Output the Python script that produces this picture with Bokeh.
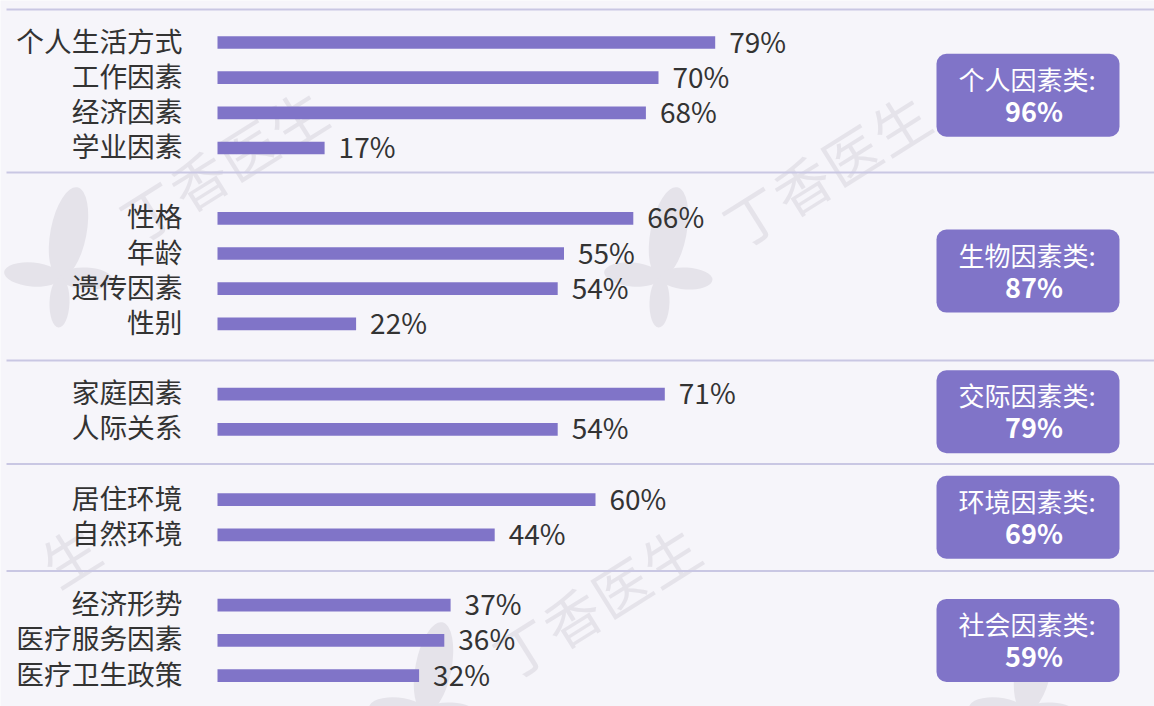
import math
from bokeh.plotting import figure
from bokeh.models import Range1d, ColumnDataSource
from bokeh.core.properties import value
from bokeh.embed import file_html
from bokeh.resources import INLINE

# ---------------- data ----------------
factor_labels = ["个人生活方式", "工作因素", "经济因素", "学业因素",
                 "性格", "年龄", "遗传因素", "性别",
                 "家庭因素", "人际关系",
                 "居住环境", "自然环境",
                 "经济形势", "医疗服务因素", "医疗卫生政策"]
factor_values = [79, 70, 68, 17, 66, 55, 54, 22, 71, 54, 60, 44, 37, 36, 32]
factor_group = [0, 0, 0, 0, 1, 1, 1, 1, 2, 2, 3, 3, 4, 4, 4]
group_names = ["个人因素类", "生物因素类", "交际因素类", "环境因素类", "社会因素类"]
group_totals = [96, 87, 79, 69, 59]

# ---------------- layout ----------------
W, H = 1154, 706
BAR_COLOR = "#8074c8"
BG = "#f6f5fa"
TXT = "#333333"
FONT = value("Noto Sans CJK SC")
PX_PER_UNIT_X = 6.30
ROW_PX = 35.17
BAR_LEFT_PX = 217
FIRST_ROW_PX = 42

x0 = -BAR_LEFT_PX / PX_PER_UNIT_X
x1 = (W - BAR_LEFT_PX) / PX_PER_UNIT_X
y0 = -FIRST_ROW_PX / ROW_PX
y1 = (H - FIRST_ROW_PX) / ROW_PX


def fx(px):  # canvas pixel -> data x
    return (px - BAR_LEFT_PX) / PX_PER_UNIT_X


def fy(py):  # canvas pixel -> data y
    return (py - FIRST_ROW_PX) / ROW_PX


rows = [i + g for i, g in enumerate(factor_group)]
pct_text = [f"{v}%" for v in factor_values]

group_mid = []
for g in range(len(group_names)):
    rr = [r for r, gg in zip(rows, factor_group) if gg == g]
    group_mid.append(sum(rr) / len(rr))

p = figure(width=W, height=H, x_range=Range1d(x0, x1), y_range=Range1d(y1, y0),
           output_backend="svg", toolbar_location=None, min_border=0,
           background_fill_color=BG, border_fill_color=BG)
p.axis.visible = False
p.grid.visible = False
p.outline_line_color = None

# ---------------- watermark (decoration) ----------------
WM = "#e5e3ea"
WM_ANG = math.radians(32)
WM_STEP = 58
wm_centers = [(222, 163), (825, 168), (-5, 600), (595, 600), (1175, 594)]
wx, wy, wt = [], [], []
for cx, cy in wm_centers:
    for k, ch in enumerate("丁香医生"):
        d = (k - 1.5) * WM_STEP
        sx = cx + d * math.cos(WM_ANG)
        sy = cy - d * math.sin(WM_ANG)
        if 30 <= sx <= W - 30 and 30 <= sy <= H - 30:
            wx.append(fx(sx)); wy.append(fy(sy)); wt.append(ch)
p.text(x=wx, y=wy, text=wt, angle=WM_ANG, text_align="center",
       text_baseline="middle", text_font=FONT, text_font_size="56px",
       text_color=WM)

logo_pos = [(60, 277), (660, 277), (425, 712), (1025, 712)]
petals = [  # dx, dy, length, width, angle(deg)
    (8, -45, 92, 36, 79),
    (-28, -3, 57, 24, 175),
    (26, 1, 52, 22, -3),
    (-1, 25, 50, 20, -92),
]
px_, py_, pw_, ph_, pa_ = [], [], [], [], []
for (lx, ly) in logo_pos:
    for dx, dy, L, Wd, a in petals:
        px_.append(fx(lx + dx)); py_.append(fy(ly + dy))
        pw_.append(L); ph_.append(Wd); pa_.append(math.radians(a))
p.ellipse(x=px_, y=py_, width=pw_, height=ph_, angle=pa_,
          width_units="screen", height_units="screen",
          fill_color=WM, line_color=None)

# ---------------- separators ----------------
sep_y = [fy(9), fy(172), fy(360), fy(463.5), fy(570.5)]
p.segment(x0=[fx(6)] * len(sep_y), x1=[x1 + 5] * len(sep_y), y0=sep_y, y1=sep_y,
          line_color="#c9c7e3", line_width=2)

# ---------------- bars ----------------
src = ColumnDataSource(dict(y=rows, v=factor_values, lab=factor_labels, pct=pct_text))
p.hbar(y="y", left=0, right="v", height=12.7 / ROW_PX, fill_color=BAR_COLOR,
       line_color=None, source=src)
p.text(x=0, y="y", text="lab", source=src, x_offset=-35, y_offset=-3,
       text_align="right", text_baseline="middle", text_font=FONT,
       text_font_size="27.7px", text_color=TXT)
p.text(x="v", y="y", text="pct", source=src, x_offset=14, y_offset=-2,
       text_align="left", text_baseline="middle", text_font=FONT,
       text_font_size="28px", text_color=TXT)

# ---------------- group boxes ----------------
box_half = 41.5 / ROW_PX
bx_l, bx_r = fx(936), fx(1119)
bx_c = (bx_l + bx_r) / 2
gsrc = ColumnDataSource(dict(
    top=[m - box_half for m in group_mid], bottom=[m + box_half for m in group_mid],
    mid=group_mid, name=[n + ":" for n in group_names],
    tot=[f"{t}%" for t in group_totals]))
p.quad(left=bx_l, right=bx_r, top="top", bottom="bottom", source=gsrc,
       fill_color=BAR_COLOR, line_color=None, border_radius=10)
p.text(x=bx_c, y="mid", text="name", source=gsrc, x_offset=-1, y_offset=-17,
       text_align="center", text_baseline="middle", text_font=FONT,
       text_font_size="26px", text_color="white")
p.text(x=bx_c, y="mid", text="tot", source=gsrc, x_offset=6, y_offset=15,
       text_align="center", text_baseline="middle", text_font=FONT,
       text_font_size="27px", text_font_style="bold", text_color="white")

open("out.html", "w").write(file_html(p, INLINE))
